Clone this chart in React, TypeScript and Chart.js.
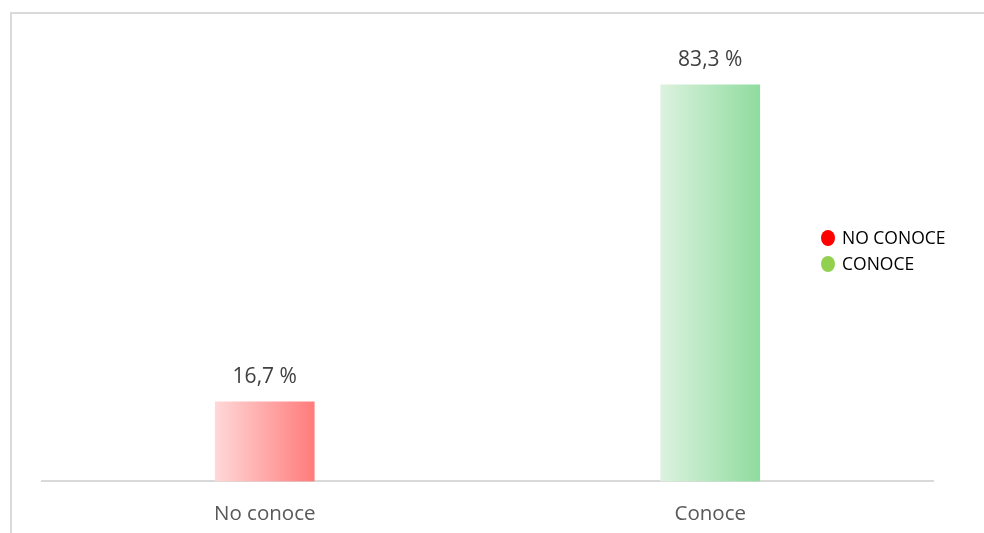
import React, { useEffect, useRef } from "react";
import { Chart, registerables } from "chart.js";

Chart.register(...registerables);

const categories = ["No conoce", "Conoce"];
const values = [16.7, 83.3];
const valueLabels = ["16,7 %", "83,3 %"];
const legendLabels = ["NO CONOCE", "CONOCE"];
const legendColors = ["#ff0000", "#92d050"];
const gradientStops = [
  ["#ffd8d8", "#ff7b7b"],
  ["#dcf2df", "#8fdc9e"],
];

const FONT = "'Open Sans', Lato, sans-serif";
const BAR_W = 99;

const decorPlugin = {
  id: "decor",
  beforeDraw(chart: any) {
    const { ctx } = chart;
    ctx.save();
    ctx.strokeStyle = "#dadada";
    ctx.lineWidth = 2;
    ctx.strokeRect(11, 13, 2000, 2000);
    ctx.restore();
  },
  afterDatasetsDraw(chart: any) {
    const { ctx } = chart;
    const meta = chart.getDatasetMeta(0);
    ctx.save();
    ctx.fillStyle = "#404040";
    ctx.font = `21px ${FONT}`;
    ctx.textAlign = "center";
    ctx.textBaseline = "middle";
    meta.data.forEach((el: any, i: number) => {
      ctx.fillText(valueLabels[i], el.x, el.y - 25);
    });
    ctx.font = `17.5px ${FONT}`;
    ctx.textAlign = "left";
    legendLabels.forEach((lab, i) => {
      const y = 238 + i * 26;
      ctx.fillStyle = legendColors[i];
      ctx.beginPath();
      ctx.ellipse(828, y, 7, 8, 0, 0, Math.PI * 2);
      ctx.fill();
      ctx.fillStyle = "#000000";
      ctx.fillText(lab, 842, y + 1);
    });
    ctx.restore();
  },
};

export default function App() {
  const ref = useRef<HTMLCanvasElement>(null);
  useEffect(() => {
    if (!ref.current) return;
    const chart = new Chart(ref.current, {
      type: "bar",
      data: {
        labels: categories,
        datasets: [
          {
            data: values,
            backgroundColor: (c: any) => {
              const ch = c.chart;
              const xs = ch.scales && ch.scales.x;
              if (!ch.chartArea || !xs || c.dataIndex === undefined) return "#cccccc";
              const cx = xs.getPixelForValue(c.dataIndex);
              if (!Number.isFinite(cx)) return "#cccccc";
              const g = ch.ctx.createLinearGradient(cx - BAR_W / 2, 0, cx + BAR_W / 2, 0);
              const s = gradientStops[c.dataIndex];
              g.addColorStop(0, s[0]);
              g.addColorStop(1, s[1]);
              return g;
            },
            barThickness: BAR_W,
          },
        ],
      },
      options: {
        responsive: false,
        animation: false,
        layout: { padding: { left: 42, right: 51, top: 53, bottom: -13 } },
        plugins: { legend: { display: false }, tooltip: { enabled: false } },
        scales: {
          y: { display: false, min: 0, max: 90 },
          x: {
            grid: { display: false, drawTicks: false },
            border: { display: true, color: "#d9d9d9", width: 2 },
            ticks: { color: "#595959", font: { family: FONT, size: 20.5 }, padding: 20 },
          },
        },
      },
      plugins: [decorPlugin],
    });
    return () => chart.destroy();
  }, []);
  return (
    <div style={{ position: "absolute", left: 0, top: 0, width: 984, height: 533 }}>
      <canvas ref={ref} width={984} height={533} style={{ width: 984, height: 533 }} />
    </div>
  );
}
